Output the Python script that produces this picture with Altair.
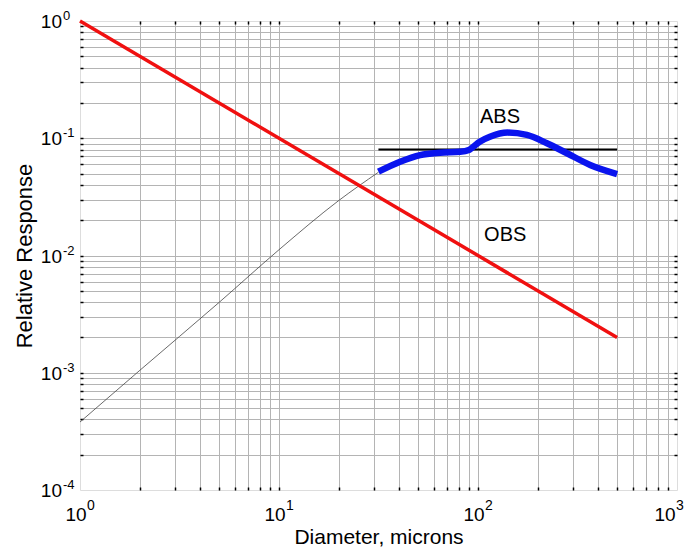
import altair as alt
import pandas as pd

# ---- data ----
red_x = [1, 500]
red_y = [1.0, 0.002]

thin_x = [1, 2, 5, 10, 20, 31.6]
thin_y = [3.8e-4, 1.05e-3, 3.98e-3, 0.0112, 0.0295, 0.0513]

blue_x = [31.6, 40.6, 51.2, 64.4, 81.3, 90.0, 102.0, 114.8, 141.0, 176.0, 222.0, 280.0, 366.0, 500.0]
blue_y = [0.0519, 0.0631, 0.0719, 0.0753, 0.0767, 0.0795, 0.0935, 0.103, 0.1117, 0.1067, 0.0906, 0.0745, 0.0592, 0.0495]

abs_x = [31.6, 500]
abs_y = [0.08, 0.08]

note_text = ["ABS", "OBS"]
note_x = [129, 137]
note_y = [0.152, 0.0151]

x_decades = [1, 10, 100, 1000]
x_exps = ["0", "1", "2", "3"]
y_decades = [1, 0.1, 0.01, 0.001, 0.0001]
y_exps = ["0", "-1", "-2", "-3", "-4"]

x_ticks = [m * 10 ** k for k in range(0, 3) for m in range(1, 10)][1:]
y_ticks = [round(m * 10.0 ** k, 6) for k in range(-4, 0) for m in range(1, 10)][1:]

W, H = 597, 469
FONT = "Liberation Sans"

xs = alt.Scale(type="log", domain=[1, 1000], nice=False)
ys = alt.Scale(type="log", domain=[1e-4, 1], nice=False)

bottom_axis = alt.Axis(orient="bottom", values=x_ticks, grid=True, gridColor="#b4b4b4",
                       gridWidth=1, labels=False, ticks=True, tickSize=3, tickColor="black",
                       tickWidth=1.5, domain=False, offset=-3,
                       title="Diameter, microns", titleFont=FONT, titleFontSize=21,
                       titleFontWeight="normal", titleColor="black",
                       titleBaseline="alphabetic", titleY=56)
left_axis = alt.Axis(orient="left", values=y_ticks, grid=True, gridColor="#b4b4b4",
                     gridWidth=1, labels=False, ticks=True, tickSize=3, tickColor="black",
                     tickWidth=1.5, domain=False, offset=-3,
                     title="Relative Response", titleFont=FONT, titleFontSize=22,
                     titleFontWeight="normal", titleColor="black",
                     titleAngle=270, titleBaseline="middle", titleAlign="center",
                     titleX=-59, titleY=H / 2)
top_axis = alt.Axis(orient="top", values=x_ticks, grid=False, labels=False, ticks=True,
                    tickSize=3, tickColor="black", tickWidth=1.5, domain=False, offset=-3,
                    title=None)
right_axis = alt.Axis(orient="right", values=y_ticks, grid=False, labels=False, ticks=True,
                      tickSize=3, tickColor="black", tickWidth=1.5, domain=False, offset=-3,
                      title=None)

thin_df = pd.DataFrame({"x": thin_x, "y": thin_y})
red_df = pd.DataFrame({"x": red_x, "y": red_y})
blue_df = pd.DataFrame({"x": blue_x, "y": blue_y})
abs_df = pd.DataFrame({"x": abs_x, "y": abs_y})
note_df = pd.DataFrame({"x": note_x, "y": note_y, "t": note_text})
xlab_df = pd.DataFrame({"x": x_decades, "e": x_exps})
ylab_df = pd.DataFrame({"y": y_decades, "e": y_exps})

thin = alt.Chart(thin_df).mark_line(color="#444444", strokeWidth=0.8, interpolate="monotone").encode(
    x=alt.X("x:Q", scale=xs, axis=bottom_axis),
    y=alt.Y("y:Q", scale=ys, axis=left_axis),
)
absline = alt.Chart(abs_df).mark_line(color="black", strokeWidth=2).encode(
    x=alt.X("x:Q", scale=xs, axis=top_axis),
    y=alt.Y("y:Q", scale=ys, axis=right_axis),
)
red = alt.Chart(red_df).mark_line(color="#f01010", strokeWidth=3.5).encode(
    x=alt.X("x:Q", scale=xs, axis=None),
    y=alt.Y("y:Q", scale=ys, axis=None),
)
blue = alt.Chart(blue_df).mark_line(color="#0a14ee", strokeWidth=6.5, interpolate="monotone").encode(
    x=alt.X("x:Q", scale=xs, axis=None),
    y=alt.Y("y:Q", scale=ys, axis=None),
)
notes = alt.Chart(note_df).mark_text(font=FONT, fontSize=20, color="black",
                                     align="center", baseline="middle").encode(
    x=alt.X("x:Q", scale=xs, axis=None),
    y=alt.Y("y:Q", scale=ys, axis=None),
    text="t:N",
)


def xlabels(data, shift):
    base = alt.Chart(data).mark_text(font=FONT, fontSize=19, color="black",
                                     align="center", baseline="alphabetic",
                                     dx=-4 + shift, dy=31).encode(
        x=alt.X("x:Q", scale=xs, axis=None),
        y=alt.Y(datum=1e-4, scale=ys, axis=None),
        text=alt.value("10"),
    )
    exp = alt.Chart(data).mark_text(font=FONT, fontSize=14, color="black",
                                    align="left", baseline="alphabetic",
                                    dx=7 + shift, dy=20).encode(
        x=alt.X("x:Q", scale=xs, axis=None),
        y=alt.Y(datum=1e-4, scale=ys, axis=None),
        text="e:N",
    )
    return [base, exp]


xl_main = xlabels(xlab_df.iloc[:-1], 0)
xl_last = xlabels(xlab_df.iloc[-1:], -8)

ylab_base = alt.Chart(ylab_df).mark_text(font=FONT, fontSize=19, color="black",
                                         align="right", baseline="alphabetic",
                                         dx=-18, dy=7).encode(
    x=alt.X(datum=1, scale=xs, axis=None),
    y=alt.Y("y:Q", scale=ys, axis=None),
    text=alt.value("10"),
)
ylab_exp = alt.Chart(ylab_df).mark_text(font=FONT, fontSize=13, color="black",
                                        align="left", baseline="alphabetic",
                                        dx=-17, dy=-1).encode(
    x=alt.X(datum=1, scale=xs, axis=None),
    y=alt.Y("y:Q", scale=ys, axis=None),
    text="e:N",
)

chart = alt.layer(
    thin, absline, red, blue, notes, *xl_main, *xl_last, ylab_base, ylab_exp
).resolve_axis(x="independent", y="independent").properties(
    width=W, height=H,
    autosize=alt.AutoSizeParams(type="none"),
    padding={"left": 72, "top": 13, "right": 7, "bottom": 60},
).configure_view(stroke="black", strokeWidth=2.5).configure(background="white")

chart.save("out.html", embed_options={"renderer": "svg", "actions": False})
